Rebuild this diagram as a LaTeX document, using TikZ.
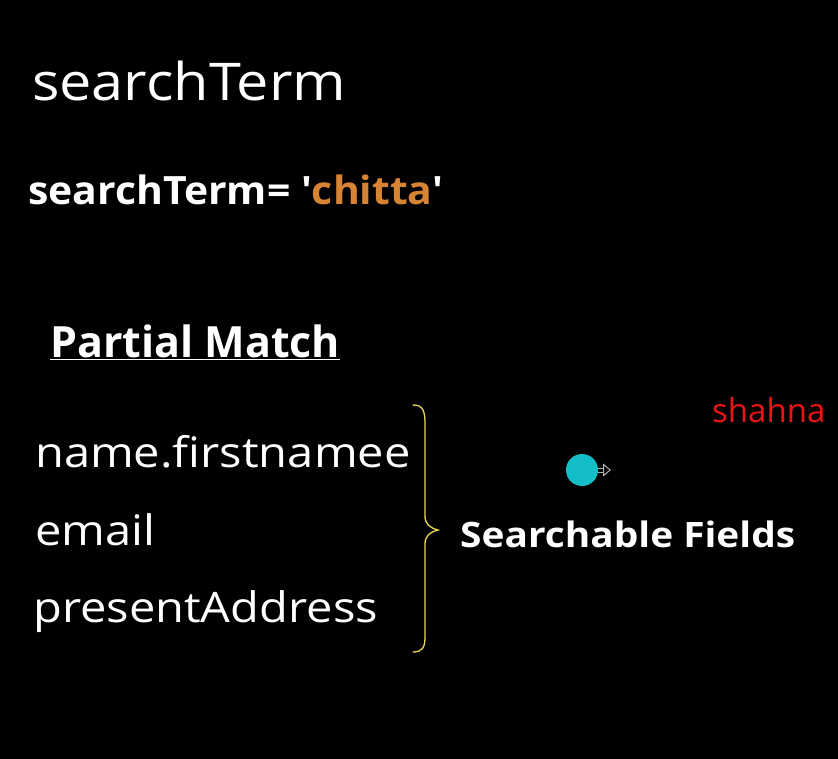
\documentclass[tikz,border=0pt]{standalone}
\usepackage{fontspec}
\setmainfont{Open Sans}
\usepackage{graphicx}
\usepackage{tikz}
\usetikzlibrary{arrows.meta}
\usepackage{xcolor}

\definecolor{chittaorange}{RGB}{214,131,52}
\definecolor{braceyellow}{RGB}{232,214,84}
\definecolor{dotcyan}{RGB}{20,190,200}
\definecolor{namered}{RGB}{235,20,20}

% wider letters, as in the slide
\newcommand{\wide}[2]{\scalebox{#1}[1]{#2}}

\tikzset{
  txt/.style={anchor=base west, inner sep=0pt, text=white},
  field/.style={txt, font=\fontsize{42}{42}\selectfont},
}

\begin{document}
\begin{tikzpicture}[x=1pt, y=-1pt]
    \fill[black] (0,0) rectangle (838,759);
    \useasboundingbox (0,0) rectangle (838,759);
    \node[txt, font=\fontsize{52}{52}\selectfont] (title) at (32,101) {\wide{1.107}{searchTerm}};
    \node[txt, font=\bfseries\fontsize{39}{39}\selectfont] (term) at (28,205)
        {\wide{1.05}{searchTerm= \textquotesingle\textcolor{chittaorange}{chitta}\textquotesingle}};
    \node[txt, font=\bfseries\fontsize{43}{43}\selectfont] (partial) at (50,357) {\underline{Partial Match}};
    \node[field] (first) at (35,467) {\wide{1.12}{name.firstnamee}};
    \node[field] (email) at (35,545) {\wide{1.12}{email}};
    \node[field] (addr) at (33,622) {\wide{1.12}{presentAddress}};
    % the brace
    \coordinate (btop) at (413,405);
    \coordinate (btip) at (438,530);
    \coordinate (bbot) at (413,652);
    \draw[braceyellow, line width=1.3pt, line cap=round]
        (btop) .. controls (423,405) and (425,411) .. (425,424) -- (425,516)
        .. controls (425,524) and (430,528) .. (btip)
        .. controls (430,532) and (425,536) .. (425,544) -- (425,637)
        .. controls (425,648) and (422,652) .. (bbot);
    \node[txt, font=\bfseries\fontsize{35}{35}\selectfont] (fields) at (460,547) {\wide{1.11}{Searchable Fields}};
    \node[txt, text=namered, font=\fontsize{33}{33}\selectfont] (name) at (712,422) {shahna};
    \node[circle, fill=dotcyan, minimum size=32pt, inner sep=0pt] (dot) at (582,470) {};
    \coordinate (tip) at (611,470);
    \draw[gray!60, line width=1pt, double=black, double distance=3pt,
        -{Triangle[open, length=8pt, width=13pt]}] (dot.east) -- (tip);
\end{tikzpicture}
\end{document}
